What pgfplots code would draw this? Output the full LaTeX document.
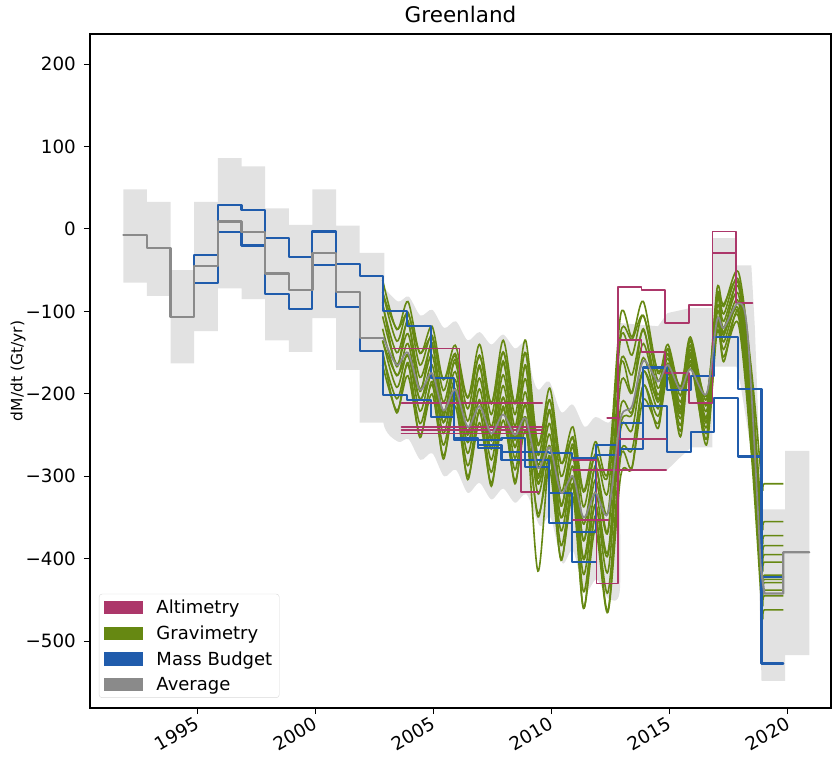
\documentclass[border=0pt]{standalone}
\usepackage{fontspec}
\setmainfont{DejaVu Sans}
\usepackage{pgfplots}
\usepackage{pgfplotstable}
\pgfplotsset{compat=1.18}

\definecolor{altc}{RGB}{172,55,106}
\definecolor{gravc}{RGB}{102,136,18}
\definecolor{mbc}{RGB}{32,92,172}
\definecolor{avgc}{RGB}{138,138,138}
\definecolor{bandc}{RGB}{226,226,226}

\tikzset{
  mbline/.style={mbc, line width=2.1pt, line join=round, line cap=round},
  altline/.style={altc, line width=1.7pt, line join=round, line cap=round},
  avgline/.style={avgc, line width=2.2pt, line join=round, line cap=round},
}

% GRACE-era gravimetry solutions (Gt/yr), sampled at the seasonal turning points
\pgfplotstableread{
t       g1    g2    g3    g4    g5    g6    g7    g8    g9    g10   g11   g12
2002.85 -62   -76   -92   -106  -121  -135  -151  -165  -77   -89   -136  -148
2003.45 -122  -136  -150  -164  -178  -192  -206  -220  -121  -167  -177  -223
2003.92 -88   -101  -114  -127  -139  -152  -165  -178  -103  -111  -154  -162
2004.43 -151  -165  -180  -194  -207  -221  -236  -250  -150  -197  -206  -253
2004.94 -118  -129  -142  -153  -165  -176  -189  -200  -132  -138  -179  -185
2005.42 -183  -196  -210  -223  -235  -248  -262  -275  -182  -227  -234  -279
2005.92 -141  -151  -162  -173  -183  -194  -205  -215  -154  -158  -197  -200
2006.45 -205  -218  -233  -246  -259  -272  -287  -300  -204  -250  -258  -304
2006.95 -140  -153  -168  -181  -194  -207  -222  -235  -155  -165  -209  -219
2007.45 -212  -225  -240  -253  -267  -280  -295  -308  -211  -257  -266  -312
2007.95 -135  -149  -163  -177  -190  -204  -218  -232  -150  -160  -205  -215
2008.45 -212  -225  -239  -252  -265  -278  -292  -305  -211  -256  -264  -309
2008.90 -135  -150  -167  -182  -198  -213  -230  -245  -151  -165  -214  -228
2009.42 -262  -274  -286  -298  -309  -321  -415  -345  -260  -302  -307  -349
2009.92 -193  -207  -222  -236  -249  -263  -278  -292  -208  -219  -264  -275
2010.40 -284  -300  -318  -334  -350  -366  -384  -400  -284  -336  -350  -402
2010.90 -240  -252  -265  -277  -288  -300  -313  -325  -254  -261  -302  -309
2011.35 -317  -337  -358  -378  -399  -419  -440  -460  -319  -378  -401  -460
2011.85 -258  -273  -289  -304  -319  -334  -350  -365  -274  -287  -335  -348
2012.38 -295  -319  -344  -368  -392  -416  -441  -465  -299  -366  -396  -463
2012.92 -104  -132  -161  -188  -216  -243  -272  -300  -126  -165  -238  -276
2013.40 -131  -153  -177  -199  -222  -244  -268  -290  -134  -198  -225  -289
2013.88 -88   -105  -123  -139  -156  -172  -190  -207  -105  -121  -172  -189
2014.50 -175  -184  -193  -201  -210  -218  -227  -236  -172  -207  -206  -242
2014.92 -140  -146  -152  -157  -163  -168  -174  -180  -151  -145  -174  -167
2015.45 -195  -202  -210  -216  -224  -230  -238  -245  -191  -223  -219  -252
2015.87 -131  -136  -141  -146  -150  -155  -160  -165  -142  -134  -161  -153
2016.55 -207  -214  -221  -228  -234  -241  -248  -255  -203  -235  -230  -262
2017.00 -72   -79   -87   -95   -102  -110  -118  -125  -84   -81   -114  -112
2017.28 -94   -103  -112  -120  -129  -137  -146  -155  -91   -126  -125  -161
2017.90 -52   -61   -70   -79   -88   -97   -106  -115  -65   -65   -101  -101
2018.45 -170  -185  -200  -215  -230  -245  -258  -272  -178  -208  -238  -265
2018.90 -309  -355  -372  -404  -425  -438  -429  -462  -384  -395  -445  -420
2019.00 -309  -355  -372  -404  -425  -438  -429  -462  -384  -395  -445  -420
2019.80 -309  -355  -372  -404  -425  -438  -429  -462  -384  -395  -445  -420
}\grav

\begin{document}
\begin{tikzpicture}[x=1pt,y=1pt]
\path[use as bounding box] (-90,-48) rectangle (742,708);
\begin{axis}[
  at={(0,0)}, anchor=south west,
  width=741pt, height=674pt, scale only axis,
  xmin=1990.47, xmax=2021.82,
  ymin=-581, ymax=236.5,
  axis line style={line width=1.4pt},
  tick pos=left, tick align=outside,
  major tick length=6pt,
  every tick/.style={black, line width=1pt},
  xtick={1995,2000,2005,2010,2015,2020},
  xticklabels={1995,2000,2005,2010,2015,2020},
  ytick={-500,-400,-300,-200,-100,0,100,200},
  yticklabels={−500,−400,−300,−200,−100,0,100,200},
  tick label style={font=\fontsize{18.3}{22}\selectfont},
  xticklabel style={rotate=30, anchor=north east, inner sep=1pt, xshift=-3pt, yshift=1pt},
  yticklabel style={inner sep=2pt, xshift=-6pt},
  title={Greenland},
  title style={font=\fontsize{21.5}{25}\selectfont, at={(0.5,1)}, anchor=south, inner sep=0pt, yshift=5pt},
  ylabel={dM/dt (Gt/yr)},
  ylabel style={font=\fontsize{15.5}{18}\selectfont, at={(axis description cs:-0.0972,0.5)}, anchor=center},
  legend style={at={(axis description cs:0.012,0.015)}, anchor=south west,
    font=\fontsize{18}{21}\selectfont, draw=black!15, rounded corners=3pt,
    fill=white, inner xsep=5pt, inner ysep=4pt, row sep=6.5pt},
  legend cell align=left,
]

% uncertainty envelope of the combined estimate
\addplot[fill=bandc, draw=none, forget plot] coordinates {
 (1991.88,48) (1992.88,48) (1992.88,33) (1993.88,33) (1993.88,-50) (1994.88,-50)
 (1994.88,33) (1995.88,33) (1995.88,86) (1996.88,86) (1996.88,76) (1997.88,76)
 (1997.88,25) (1998.88,25) (1998.88,5) (1999.88,5) (1999.88,48) (2000.88,48)
 (2000.88,4) (2001.88,4) (2001.88,-29) (2002.92,-29) (2002.92,-235)
 (2001.88,-235) (2001.88,-171) (2000.88,-171) (2000.88,-108)
 (1999.88,-108) (1999.88,-149) (1998.88,-149) (1998.88,-135) (1997.88,-135)
 (1997.88,-85) (1996.88,-85) (1996.88,-72) (1995.88,-72) (1995.88,-124)
 (1994.88,-124) (1994.88,-163) (1993.88,-163) (1993.88,-81) (1992.88,-81)
 (1992.88,-65) (1991.88,-65)} -- cycle;
\addplot[fill=bandc, draw=none, smooth, forget plot] coordinates {
 (2002.88,-70) (2003.5,-88) (2003.95,-82) (2004.45,-105) (2004.95,-98) (2005.45,-120)
 (2005.95,-112) (2006.45,-135) (2006.95,-125) (2007.45,-140) (2007.95,-128)
 (2008.45,-145) (2008.9,-138) (2009.2,-180) (2009.45,-195) (2009.9,-185)
 (2010.4,-222) (2010.9,-213) (2011.4,-240) (2011.85,-228) (2012.4,-235) (2012.88,-225)
 (2012.89,-330) (2012.88,-440)
 (2012.4,-448) (2011.9,-425) (2011.4,-440) (2010.9,-390) (2010.45,-405)
 (2009.95,-350) (2009.5,-360) (2008.95,-322) (2008.45,-332) (2007.95,-315)
 (2007.45,-328) (2006.95,-308) (2006.45,-320) (2005.95,-292) (2005.45,-300)
 (2004.95,-272) (2004.45,-280) (2003.95,-255) (2003.5,-258) (2002.88,-235)
 (2002.87,-150)} -- cycle;
\addplot[fill=bandc, draw=none, forget plot] coordinates {
 (2012.86,-114) (2014.5,-118) (2014.9,-102) (2015.85,-96) (2016.8,-96)
 (2016.82,-11) (2017.82,-11) (2017.84,-44) (2018.45,-44) (2018.6,-120) (2018.88,-340)
 (2019.88,-340) (2019.88,-269) (2020.9,-269) (2020.9,-517) (2019.88,-517)
 (2019.88,-548) (2018.88,-548) (2018.75,-400) (2018.5,-280) (2018.0,-190)
 (2017.82,-167) (2016.82,-167) (2016.8,-265) (2015.9,-265) (2015.4,-278)
 (2014.9,-292) (2012.86,-292)} -- cycle;

% gravimetry
\pgfplotsinvokeforeach{1,...,12}{
  \addplot[gravc, line width=1.6pt, smooth, forget plot] table[x=t, y=g#1] {\grav};
}

% mass budget
\addplot[mbline, forget plot] coordinates {
 (1994.88,-32) (1995.88,-32) (1995.88,29) (1996.88,29) (1996.88,23) (1997.88,23)
 (1997.88,-11) (1998.88,-11) (1998.88,-34) (1999.88,-34) (1999.88,-3) (2000.88,-3)
 (2000.88,-43) (2001.88,-43) (2001.88,-57) (2002.88,-57) (2002.88,-100) (2003.88,-100)
 (2003.88,-118) (2004.88,-118) (2004.88,-181) (2005.88,-181) (2005.88,-253)
 (2006.88,-253) (2006.88,-256) (2007.88,-256) (2007.88,-254) (2008.88,-254)
 (2008.88,-270) (2009.88,-270) (2009.88,-272) (2010.88,-272) (2010.88,-278)
 (2011.88,-278) (2011.88,-274) (2012.88,-274) (2012.88,-235) (2013.88,-235)
 (2013.88,-168) (2014.88,-168) (2014.88,-195) (2015.88,-195) (2015.88,-178)
 (2016.88,-178) (2016.88,-131) (2017.88,-131) (2017.88,-194) (2018.88,-194)
 (2018.88,-422) (2019.8,-422)};
\addplot[mbline, forget plot] coordinates {
 (1994.88,-32) (1994.88,-66) (1995.88,-66) (1995.88,-4) (1996.88,-4) (1996.88,-20)
 (1997.88,-20) (1997.88,-79) (1998.88,-79) (1998.88,-97) (1999.88,-97) (1999.88,-44)
 (2000.88,-44) (2000.88,-95) (2001.88,-95) (2001.88,-148) (2002.88,-148)
 (2002.88,-201) (2003.88,-201) (2003.88,-207) (2004.88,-207) (2004.88,-228)
 (2005.88,-228) (2005.88,-256) (2006.88,-256) (2006.88,-266) (2007.88,-266)
 (2007.88,-280) (2009.88,-280) (2009.88,-320) (2010.88,-320) (2010.88,-367)
 (2011.88,-367) (2011.88,-262) (2012.88,-262) (2012.88,-267) (2013.88,-267)
 (2013.88,-215) (2014.88,-215) (2014.88,-270) (2015.88,-270) (2015.88,-246)
 (2016.88,-246) (2016.88,-205) (2017.88,-205) (2017.88,-276) (2018.88,-276)
 (2018.88,-527) (2019.8,-527)};
\addplot[mbline, forget plot] coordinates {
 (2006.88,-262) (2007.88,-262) (2007.88,-270) (2008.88,-270) (2008.88,-289)
 (2009.88,-289) (2009.88,-357) (2010.88,-357) (2010.88,-404) (2011.88,-404)};

% altimetry
\addplot[altline, forget plot] coordinates {(2003.25,-145) (2006.1,-145) (2006.1,-211)};
\addplot[altline, forget plot] coordinates {(2003.65,-211) (2009.6,-211)};
\addplot[altline, forget plot] coordinates {(2003.65,-240) (2009.6,-240)};
\addplot[altline, forget plot] coordinates {(2003.65,-244) (2009.6,-244)};
\addplot[altline, forget plot] coordinates {(2003.65,-248) (2009.6,-248)};
\addplot[altline, forget plot] coordinates {(2008.70,-256) (2008.70,-319) (2009.45,-319)};
\addplot[altline, forget plot] coordinates {
 (2010.9,-280) (2011.9,-280) (2011.9,-430) (2012.8,-430) (2012.8,-70) (2013.8,-70)
 (2013.8,-74) (2014.8,-74) (2014.8,-114) (2015.8,-114) (2015.8,-92) (2016.8,-92)
 (2016.8,-3) (2017.8,-3) (2017.8,-90) (2018.5,-90)};
\addplot[altline, forget plot] coordinates {
 (2010.9,-292) (2012.8,-292) (2012.8,-135) (2013.8,-135) (2013.8,-149) (2014.8,-149)
 (2014.8,-175) (2015.8,-175) (2015.8,-211) (2016.8,-211) (2016.8,-29) (2017.8,-29)};
\addplot[altline, forget plot] coordinates {(2010.9,-353) (2012.4,-353)};
\addplot[altline, forget plot] coordinates {(2012.35,-229) (2012.85,-229) (2012.85,-255) (2014.85,-255)};
\addplot[altline, forget plot] coordinates {(2012.85,-292) (2014.85,-292)};

% average of all estimates
\addplot[avgline, forget plot] coordinates {
 (1991.88,-7) (1992.88,-7) (1992.88,-23) (1993.88,-23) (1993.88,-107) (1994.88,-107)
 (1994.88,-45) (1995.88,-45) (1995.88,9) (1996.88,9) (1996.88,-4) (1997.88,-4)
 (1997.88,-54) (1998.88,-54) (1998.88,-74) (1999.88,-74) (1999.88,-29) (2000.88,-29)
 (2000.88,-76) (2001.88,-76) (2001.88,-132) (2002.88,-132)};
\addplot[avgc, line width=1.7pt, smooth, forget plot] coordinates {
 (2002.88,-132) (2003.45,-165) (2003.92,-150) (2004.43,-195) (2004.94,-175)
 (2005.42,-220) (2005.92,-195) (2006.45,-240) (2006.95,-215) (2007.45,-248)
 (2007.95,-225) (2008.45,-250) (2008.9,-230) (2009.42,-290) (2009.92,-265)
 (2010.4,-320) (2010.9,-300) (2011.35,-350) (2011.85,-320) (2012.38,-345)
 (2012.92,-230) (2013.4,-215) (2013.88,-160) (2014.5,-185) (2014.92,-165)
 (2015.45,-195) (2015.87,-170) (2016.55,-200) (2017.0,-110) (2017.28,-120)
 (2017.9,-90) (2018.3,-130) (2018.85,-410)};
\addplot[avgline, forget plot] coordinates {
 (2018.85,-410) (2019.0,-442) (2019.8,-442) (2019.8,-392) (2020.9,-392)};

% legend
\addlegendimage{legend image code/.code={\fill[altc, sharp corners] (0pt,-6pt) rectangle (38pt,6.5pt); \path (50pt,0pt);}}
\addlegendentry{Altimetry}
\addlegendimage{legend image code/.code={\fill[gravc, sharp corners] (0pt,-6pt) rectangle (38pt,6.5pt); \path (50pt,0pt);}}
\addlegendentry{Gravimetry}
\addlegendimage{legend image code/.code={\fill[mbc, sharp corners] (0pt,-6pt) rectangle (38pt,6.5pt); \path (50pt,0pt);}}
\addlegendentry{Mass Budget}
\addlegendimage{legend image code/.code={\fill[avgc, sharp corners] (0pt,-6pt) rectangle (38pt,6.5pt); \path (50pt,0pt);}}
\addlegendentry{Average}
\end{axis}
\end{tikzpicture}
\end{document}
